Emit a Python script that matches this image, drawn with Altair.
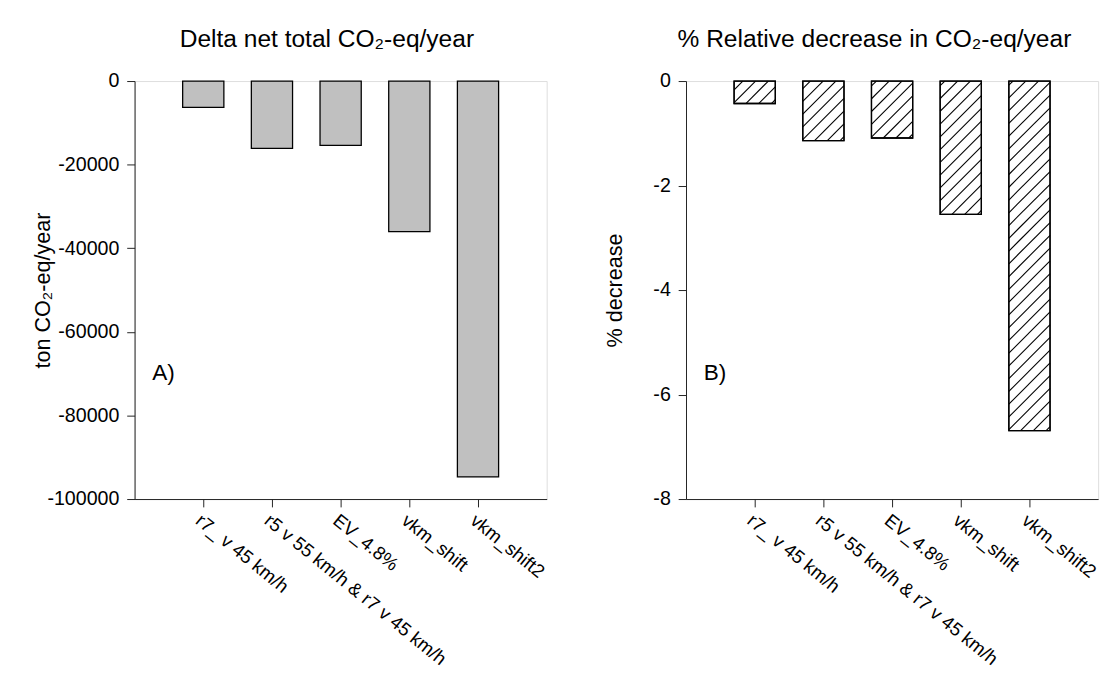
import json
import altair as alt
import pandas as pd

# ---- data ----
categories = ["r7_ v 45 km/h", "r5 v 55 km/h & r7 v 45 km/h", "EV_4.8%", "vkm_shift", "vkm_shift2"]
delta_total = [-6300, -16100, -15400, -36000, -94700]      # ton CO2-eq/year
pct_decrease = [-0.43, -1.14, -1.09, -2.55, -6.69]          # % decrease
y_ticks_a = [0, -20000, -40000, -60000, -80000, -100000]
y_ticks_b = [0, -2, -4, -6, -8]
title_a = "Delta net total CO₂-eq/year"
title_b = "% Relative decrease in CO₂-eq/year"
ytitle_a = "ton CO₂-eq/year"
ytitle_b = "% decrease"
panel_tags = ["A)", "B)"]

# ---- styling ----
FONT = "Liberation Sans"
W = 420
H = 426
XMAX = 6
HALF = 0.3           # half bar width in x units
LINE = "#222222"
PXX = W / XMAX       # px per x unit
SP = 13              # hatch vertical spacing in px
BARW = 2 * HALF * PXX

idx = list(range(1, len(categories) + 1))
df = pd.DataFrame({"cat": categories, "idx": idx, "delta": delta_total, "pct": pct_decrease})

label_expr = json.dumps([""] + categories) + "[datum.value]"


def x_axis():
    return alt.Axis(values=idx, labelExpr=label_expr, labelAngle=39, labelAlign="left",
                    labelBaseline="top", labelFontSize=19, labelFont=FONT, labelColor="black",
                    labelFlush=False, labelOverlap=False, labelLimit=0, labelPadding=4, tickSize=8,
                    tickColor=LINE, domainColor=LINE, grid=False, title=None)


def y_axis(ticks, title, tx):
    return alt.Axis(values=ticks, labelExpr="'' + datum.value", labelFontSize=20, labelFont=FONT,
                    labelColor="black", labelPadding=8, tickSize=8, tickColor=LINE,
                    domainColor=LINE, grid=False, title=title, titleFont=FONT, titleFontSize=22,
                    titleFontWeight="normal", titleColor="black", titleAngle=270,
                    titleX=tx, titleY=H / 2, titleAlign="center", titleBaseline="middle")


def panel(field, ymin, ticks, ytitle, tx, title, tdx, tag, hatched):
    xs = alt.Scale(domain=[0, XMAX], nice=False, zero=False)
    ys = alt.Scale(domain=[ymin, 0], nice=False, zero=False)
    base = alt.Chart(df).transform_calculate(x0=f"datum.idx - {HALF}", x1=f"datum.idx + {HALF}")
    bars = base.mark_bar(
        fill="white" if hatched else "#c0c0c0", stroke="black", strokeWidth=1.3
    ).encode(
        x=alt.X("x0:Q", scale=xs, axis=x_axis()),
        x2="x1:Q",
        y=alt.Y(f"{field}:Q", scale=ys, axis=y_axis(ticks, ytitle, tx)),
        y2=alt.datum(0),
    )
    tag_df = pd.DataFrame({"t": [tag]})
    tag_text = alt.Chart(tag_df).mark_text(
        font=FONT, fontSize=23, align="left", baseline="middle", color="black"
    ).encode(text="t:N", x=alt.value(18), y=alt.value(298))
    layers = [bars]
    if hatched:
        pxy = H / (0 - ymin)
        hatch = base.transform_calculate(
            Hpx=f"-datum.{field} * {pxy}"
        ).transform_calculate(
            ks=f"sequence({-BARW + 4}, datum.Hpx, {SP})"
        ).transform_flatten(["ks"]).transform_calculate(
            u0="max(0, -datum.ks)", u1=f"min({BARW}, datum.Hpx - datum.ks)"
        ).transform_filter("datum.u1 > datum.u0 + 0.5").transform_calculate(
            hx0=f"datum.x0 + datum.u0 / {PXX}",
            hx1=f"datum.x0 + datum.u1 / {PXX}",
            hy0=f"datum.{field} + (datum.u0 + datum.ks) / {pxy}",
            hy1=f"datum.{field} + (datum.u1 + datum.ks) / {pxy}",
        ).mark_rule(color="black", strokeWidth=1.1).encode(
            x=alt.X("hx0:Q", scale=xs), x2="hx1:Q",
            y=alt.Y("hy0:Q", scale=ys), y2="hy1:Q",
        )
        outline = base.mark_bar(fill=None, stroke="black", strokeWidth=1.3).encode(
            x=alt.X("x0:Q", scale=xs), x2="x1:Q",
            y=alt.Y(f"{field}:Q", scale=ys), y2=alt.datum(0),
        )
        layers += [hatch, outline]
    layers.append(tag_text)
    return alt.layer(*layers).properties(
        width=W, height=H,
        title=alt.Title(text=title, font=FONT, fontSize=25, fontWeight="normal", color="black",
                        anchor="middle", offset=20, dx=tdx),
    )


pa = panel("delta", -100000, y_ticks_a, ytitle_a, -94, title_a, -14, panel_tags[0], False)
pb = panel("pct", -8, y_ticks_b, ytitle_b, -73, title_b, -18, panel_tags[1], True)

chart = alt.hconcat(pa, pb, spacing=55).properties(
    padding={"left": 23, "top": 12, "right": 5, "bottom": 5}
).configure_view(stroke=LINE, strokeWidth=1.2).configure(background="white")

chart.save("out.html", embed_options={"renderer": "svg", "actions": False})
